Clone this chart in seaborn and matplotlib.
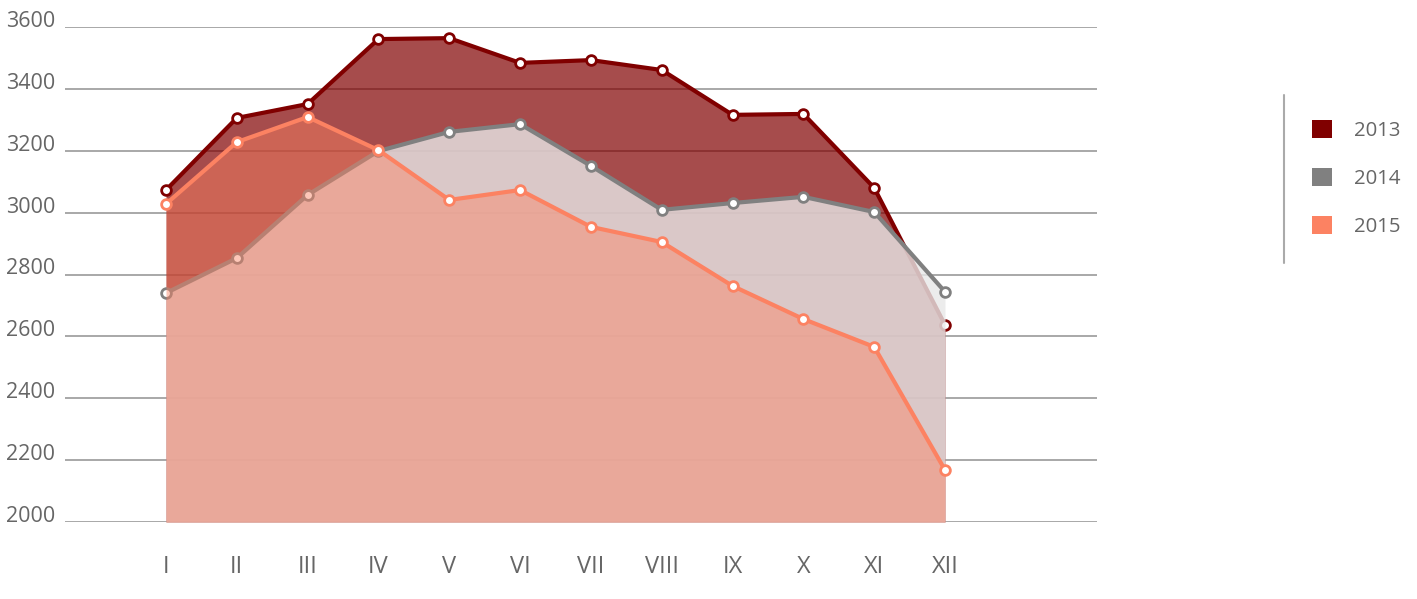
import numpy as np
import pandas as pd
import seaborn as sns
import matplotlib.pyplot as plt
from matplotlib.patches import Patch
from matplotlib.lines import Line2D

# data
months = ['I', 'II', 'III', 'IV', 'V', 'VI', 'VII', 'VIII', 'IX', 'X', 'XI', 'XII']
years = ['2013', '2014', '2015']
v2013 = [3073, 3306, 3351, 3561, 3564, 3484, 3493, 3461, 3316, 3319, 3080, 2637]
v2014 = [2740, 2853, 3057, 3199, 3261, 3286, 3151, 3009, 3031, 3051, 3002, 2744]
v2015 = [3028, 3228, 3309, 3202, 3041, 3073, 2954, 2905, 2763, 2656, 2566, 2168]
yticks = [2000, 2200, 2400, 2600, 2800, 3000, 3200, 3400, 3600]

line_colors = {'2013': '#800000', '2014': '#808080', '2015': '#FC8262'}
fill_colors = {'2013': ('#800000', 0.70), '2014': ('#E8E8E8', 0.80), '2015': ('#FC8262', 0.45)}

df = pd.DataFrame({'month': np.arange(len(months)), '2013': v2013, '2014': v2014, '2015': v2015})
df = df.melt(id_vars='month', var_name='year', value_name='value')

sns.set_style('white')
plt.rcParams['font.family'] = ['Open Sans', 'DejaVu Sans']

fig = plt.figure(figsize=(14.17, 5.99), dpi=100)
ax = fig.add_axes([65 / 1417, 77 / 599, (1097 - 65) / 1417, (522 - 27) / 599])

z = 2
for yr in years:
    d = df[df['year'] == yr]
    fc, fa = fill_colors[yr]
    ax.fill_between(d['month'], 2000, d['value'], color=fc, alpha=fa, lw=0, zorder=z)
    sns.lineplot(data=d, x='month', y='value', ax=ax, color=line_colors[yr],
                 linewidth=3, marker='o', markersize=7, markerfacecolor='white',
                 markeredgecolor=line_colors[yr], markeredgewidth=2,
                 zorder=z + 1, clip_on=False, legend=False)
    z += 2

ax.set_xlim(-1.426, 13.146)
ax.set_ylim(2000, 3600)
ax.set_xticks(np.arange(len(months)))
ax.set_xticklabels(months)
ax.set_yticks(yticks)
ax.set_yticklabels([str(t) for t in yticks])
ax.set_xlabel('')
ax.set_ylabel('')
ax.grid(axis='y', color='#999999', linewidth=1.2)
ax.grid(axis='x', visible=False)
ax.set_axisbelow(True)
for s in ax.spines.values():
    s.set_visible(False)
ax.tick_params(axis='y', length=0, pad=7, labelsize=15.5, labelcolor='#666666')
ax.tick_params(axis='x', length=0, pad=24, labelsize=17, labelcolor='#666666')
for lab in ax.get_yticklabels():
    lab.set_va('baseline')

# legend with separator line
handles = [Patch(facecolor=line_colors[y], edgecolor='none') for y in years]
fig.legend(handles, years, loc='upper left', bbox_to_anchor=(1312 / 1417, 1 - 120 / 599),
           frameon=False, borderpad=0, borderaxespad=0, handlelength=1.0, handleheight=1.0,
           handletextpad=1.05, labelspacing=1.32, fontsize=14.7, labelcolor='#666666')
fig.add_artist(Line2D([1284 / 1417, 1284 / 1417], [1 - 95 / 599, 1 - 263 / 599],
                      color='#aaaaaa', linewidth=1.5))

fig.savefig('out.png', dpi=100)
